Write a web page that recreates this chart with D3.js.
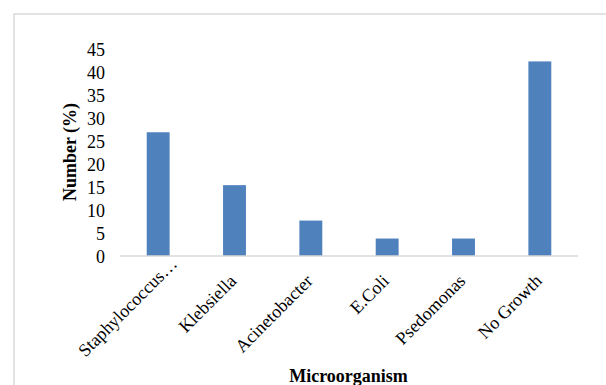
<!DOCTYPE html>
<html>
<head>
<meta charset="utf-8">
<script src="https://cdn.jsdelivr.net/npm/d3@7"></script>
<style>
  html, body { margin: 0; padding: 0; background: #fff; }
  svg { display: block; }
  text { font-family: "Liberation Serif", "Times New Roman", serif; fill: #000; }
</style>
</head>
<body>
<svg id="chart" width="606" height="385"></svg>
<script>
// Microorganisms isolated, share of samples (%)
const categories = ["Staphylococcus…", "Klebsiella", "Acinetobacter", "E.Coli", "Psedomonas", "No Growth"];
const values = [26.9, 15.4, 7.7, 3.8, 3.8, 42.3];
const yTicks = [0, 5, 10, 15, 20, 25, 30, 35, 40, 45];
const xTitle = "Microorganism";
const yTitle = "Number (%)";

const svg = d3.select("#chart");

// chart frame
svg.append("rect")
  .attr("x", 14).attr("y", 14)
  .attr("width", 620).attr("height", 400)
  .attr("fill", "#fff")
  .attr("stroke", "#d9d9d9")
  .attr("stroke-width", 1.5);

const x = d3.scaleBand()
  .domain(categories)
  .range([120, 578])
  .paddingInner(0.7)
  .paddingOuter(0.35);

const y = d3.scaleLinear()
  .domain([0, 45])
  .range([256, 49]);

// bars
svg.append("g")
  .selectAll("rect")
  .data(values)
  .join("rect")
  .attr("x", (d, i) => x(categories[i]))
  .attr("y", d => y(d))
  .attr("width", x.bandwidth())
  .attr("height", d => y(0) - y(d))
  .attr("fill", "#4f81bd");

// y axis: labels only
const yAxis = svg.append("g")
  .attr("transform", "translate(105,0)")
  .call(d3.axisLeft(y).tickValues(yTicks).tickSize(0).tickPadding(0).tickFormat(d3.format("d")));
yAxis.select(".domain").remove();
yAxis.selectAll("text")
  .attr("font-family", "Liberation Serif, Times New Roman, serif")
  .attr("font-size", 18)
  .attr("fill", "#000")
  .attr("dy", "0.35em");

// x axis: baseline and rotated category labels
const xAxis = svg.append("g")
  .attr("transform", `translate(0,${y(0)})`)
  .call(d3.axisBottom(x).tickSize(0).tickPadding(0));
xAxis.select(".domain")
  .attr("stroke", "#d9d9d9")
  .attr("stroke-width", 1.5)
  .attr("d", `M${x.range()[0]},0H${x.range()[1]}`);
xAxis.selectAll(".tick text")
  .attr("font-family", "Liberation Serif, Times New Roman, serif")
  .attr("font-size", 18)
  .attr("fill", "#000")
  .attr("text-anchor", "end")
  .attr("y", 0).attr("dy", 0)
  .attr("transform", d => {
    // a shortened label is pushed further up along its slant
    const shift = d.endsWith("…") ? 24 : 0;
    const s = shift / Math.SQRT2;
    return `translate(${3 + s},${26 - s}) rotate(-45)`;
  });

// axis titles
svg.append("text")
  .attr("x", 348.5).attr("y", 382)
  .attr("text-anchor", "middle")
  .attr("font-size", 18)
  .attr("font-weight", "bold")
  .text(xTitle);

svg.append("text")
  .attr("transform", "translate(76,152) rotate(-90)")
  .attr("text-anchor", "middle")
  .attr("font-size", 18)
  .attr("font-weight", "bold")
  .text(yTitle);
</script>
</body>
</html>
